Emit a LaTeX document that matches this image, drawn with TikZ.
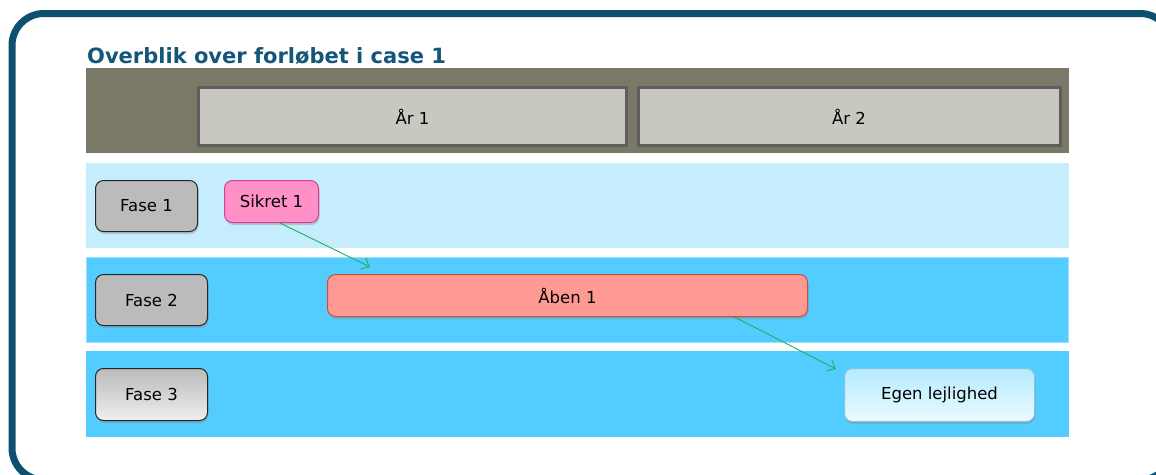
\documentclass[tikz,border=0pt]{standalone}
\usepackage{fontspec}
\setmainfont{DejaVu Sans}
\usepackage{tikz}
\usetikzlibrary{shadows, arrows, arrows.meta, calc}
\usepackage{xcolor}
\definecolor{rammeblaa}{HTML}{0E5070}
\definecolor{titelblaa}{HTML}{14567A}
\definecolor{hovedgraa}{HTML}{7A7866}
\definecolor{aargraa}{HTML}{C8C8C0}
\definecolor{aarkant}{HTML}{5E5E5E}
\definecolor{lysblaa}{HTML}{C6EDFD}
\definecolor{mellemblaa}{HTML}{53CDFF}
\definecolor{kantblaa}{HTML}{9FE0FF}
\definecolor{fasegraa}{HTML}{BBBBBB}
\definecolor{sikretrosa}{HTML}{FF90C8}
\definecolor{sikretkant}{HTML}{D0409A}
\definecolor{aabenrod}{HTML}{FF9994}
\definecolor{aabenkant}{HTML}{D04A3A}
\definecolor{egenblaa}{HTML}{B5EBFF}
\definecolor{egenkant}{HTML}{8CC2DE}
\definecolor{pilgroen}{HTML}{1DB05A}
\tikzset{
	ramme/.style={draw=rammeblaa, line width=7pt, rounded corners=32pt},
	titel/.style={font=\bfseries\fontsize{21}{24}\selectfont, text=titelblaa, inner sep=0pt},
	aar/.style={draw=aarkant, fill=aargraa, line width=3pt, font=\fontsize{16.5}{19}\selectfont},
	kasse/.style={rounded corners=8pt, font=\fontsize{16.5}{19}\selectfont, inner sep=0pt,
		drop shadow={shadow xshift=1pt, shadow yshift=-2.5pt, opacity=0.35}},
	fase/.style={kasse, draw=black!85, fill=fasegraa, line width=1pt},
	sikret/.style={kasse, draw=sikretkant, fill=sikretrosa, line width=1pt},
	aaben/.style={kasse, draw=aabenkant, fill=aabenrod, line width=1pt},
	egen/.style={kasse, draw=egenkant, top color=egenblaa, middle color=egenblaa, bottom color=egenblaa!25!white, line width=1pt},
	pil/.style={-{Straight Barb[length=7pt, width=12pt]}, draw=pilgroen, line width=0.9pt}
}

\begin{document}
\begin{tikzpicture}[x=1pt, y=-1pt]
	\useasboundingbox (0,0) rectangle (1156,474);
	\draw[ramme] (12,13.5) rectangle (1172,480);
	\node[titel, anchor=base west] (overskrift) at (87,63) {Overblik over forløbet i case 1};

	\fill[hovedgraa] (86,68) rectangle (1069,153);
	\node[aar, minimum width=428, minimum height=58] (aar1) at (412.5,116.5) {År 1};
	\node[aar, minimum width=422, minimum height=58] (aar2) at (849,116.5) {År 2};

	\fill[lysblaa] (86,163) rectangle (1069,248);
	\filldraw[fill=mellemblaa, draw=kantblaa, line width=1pt] (86.5,257.5) rectangle (1068.5,342.5);
	\fill[mellemblaa] (86,351) rectangle (1069,437);

	\node[fase, minimum width=102, minimum height=51] (fase1) at (146.5,206) {Fase 1};
	\node[fase, minimum width=112, minimum height=51] (fase2) at (151.5,300) {Fase 2};
	\node[fase, top color=fasegraa, middle color=fasegraa, bottom color=fasegraa!25!white, minimum width=112, minimum height=52] (fase3) at (151.5,394.5) {Fase 3};

	\node[sikret, minimum width=94, minimum height=42] (sikret) at (271.5,201.5) {Sikret 1};
	\node[aaben, minimum width=480, minimum height=42] (aaben) at (567.5,295.5) {Åben 1};
	\node[egen, minimum width=190, minimum height=53] (egen) at (939.5,395) {Egen lejlighed};

	\coordinate (pil1) at (370,267);
	\coordinate (pil2) at (836,369);
	\draw[pil] ([xshift=8.5pt]sikret.south) -- (pil1);
	\draw[pil] ([xshift=167pt]aaben.south) -- (pil2);
\end{tikzpicture}
\end{document}
